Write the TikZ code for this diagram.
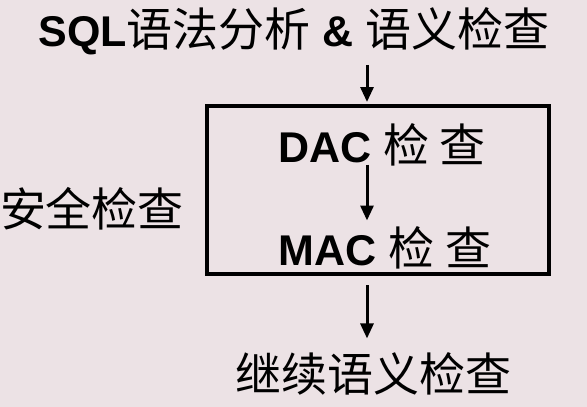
\documentclass[tikz,border=0pt]{standalone}
\usepackage{fontspec}
\setmainfont{Liberation Sans}
\newfontfamily\cjk{Noto Sans CJK SC}
\usetikzlibrary{positioning,arrows.meta}
\definecolor{slidebg}{RGB}{236,226,229}
\newcommand{\hanzi}[1]{{\cjk\mdseries\fontsize{46}{50}\selectfont #1}}

\begin{document}
\begin{tikzpicture}[
      x=1pt, y=-1pt,
      every node/.style = {inner sep=0pt, align=center,
          font=\fontsize{43}{50}\selectfont\bfseries},
      flow/.style = {draw, line width=3pt,
          -{Triangle[length=15pt,width=13pt]}},
      checkbox/.style = {draw, line width=4pt,
          minimum width=342pt, minimum height=168pt}
    ]

    \fill[slidebg] (0,0) rectangle (587,407);
    \coordinate (axis) at (367,0);

    \node (sql) at (294,31) {SQL\hanzi{语法分析} \& \hanzi{语义检查}};
    \node[checkbox] (secbox) at (378,190) {};
    \node (dac) at (382,145) {DAC \hanzi{检 查}};
    \node (mac) at (385,248) {MAC \hanzi{检 查}};
    \node (sec) at (92,209) {\hanzi{安全检查}};
    \node (rest) at (373,374) {\hanzi{继续语义检查}};

    \draw[flow, shorten <=10pt, shorten >=2pt] (axis |- sql.south) -- (axis |- secbox.north);
    \draw[flow, shorten <=-2pt, shorten >=6pt] (axis |- dac.south) -- (axis |- mac.north);
    \draw[flow, shorten <=9pt, shorten >=14pt] (axis |- secbox.south) -- (axis |- rest.north);
\end{tikzpicture}
\end{document}
